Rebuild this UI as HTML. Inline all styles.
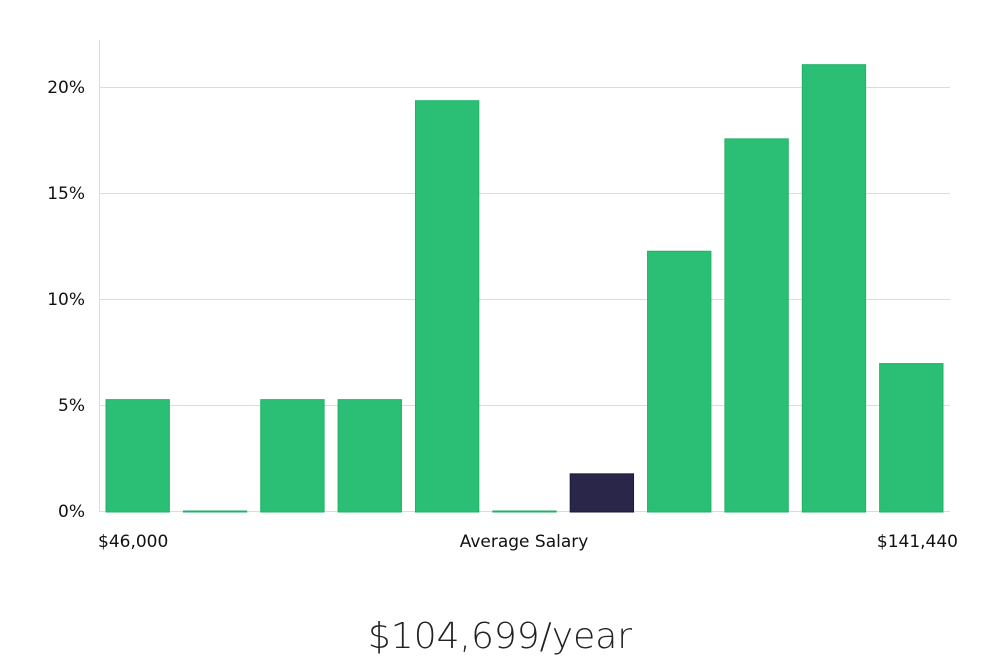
<!DOCTYPE html>
<html><head><meta charset="utf-8"><style>
body{margin:0;background:#fff;width:1000px;height:660px;overflow:hidden;font-family:"Liberation Sans","DejaVu Sans",sans-serif}
svg text{font-family:"DejaVu Sans","Liberation Sans",sans-serif}
</style></head><body>
<svg id="chart" width="1000" height="660">
<g id="grid"></g><g id="bars"></g><g id="labels"></g>
<line x1="99.5" y1="40" x2="99.5" y2="511" stroke="#ddd" stroke-width="1"/>
<text x="98" y="547" font-size="17" fill="#111">$46,000</text>
<text x="524" y="547" font-size="17" fill="#111" text-anchor="middle">Average Salary</text>
<text x="958" y="547" font-size="17" fill="#111" text-anchor="end">$141,440</text>
<text x="500" y="648" font-size="36" fill="#222" font-weight="300" text-anchor="middle" style="font-family:'DejaVu Sans','Liberation Sans',sans-serif;font-weight:200">$104,699/year</text>
</svg>
<script>
const categories=["b1","b2","b3","b4","b5","b6","b7","b8","b9","b10","b11"];
const values=[5.3,0,5.3,5.3,19.4,0,1.8,12.3,17.6,21.1,7.0];
const highlight=[false,false,false,false,false,false,true,false,false,false,false];
const ticks=[0,5,10,15,20];
const tickLabels=["0%","5%","10%","15%","20%"];
const NS="http://www.w3.org/2000/svg";
const x0=99,x1=950,y0=511,yTop=87;
const band=(x1-x0)/categories.length;
function y(v){return y0-(y0-yTop)*v/20;}
function bx(i){return x0+band*i+7;}
const grid=document.getElementById('grid'),bars=document.getElementById('bars'),labels=document.getElementById('labels');
ticks.forEach((t,i)=>{
 const l=document.createElementNS(NS,'line');
 l.setAttribute('x1',x0);l.setAttribute('x2',x1);l.setAttribute('y1',y(t)+0.5);l.setAttribute('y2',y(t)+0.5);
 l.setAttribute('stroke','#dcdcdc');
 
 
 grid.appendChild(l);
 const tx=document.createElementNS(NS,'text');
 tx.setAttribute('x',85);tx.setAttribute('y',y(t)+6);tx.setAttribute('text-anchor','end');
 tx.setAttribute('font-size','17');tx.setAttribute('fill','#111');tx.textContent=tickLabels[i];
 
 
 labels.appendChild(tx);
});
values.forEach((v,i)=>{
 const r=document.createElementNS(NS,'rect');
 const h=Math.max(1,y0-y(v));
 r.setAttribute('x',bx(i));r.setAttribute('y',y0-h+1);r.setAttribute('width',band-14);r.setAttribute('height',h);
 r.setAttribute('fill',highlight[i]?'#29264a':'#2bbf76');
 r.setAttribute('stroke',highlight[i]?'#1c1a38':'#22b06a');
 
 
 bars.appendChild(r);
});
</script>
</body></html>
